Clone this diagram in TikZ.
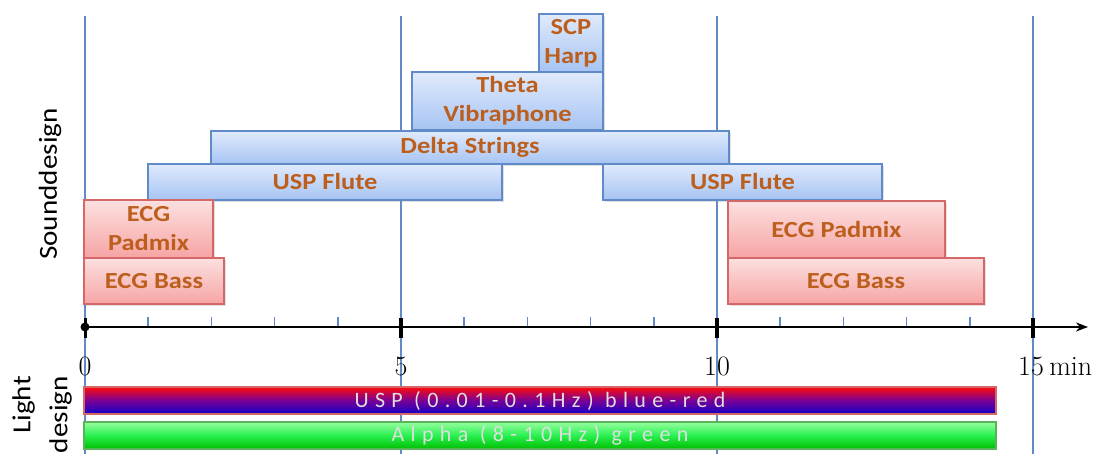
\documentclass[tikz,border=0pt]{standalone}
\usepackage{fontspec}
\usetikzlibrary{shadows,arrows.meta}
\newfontfamily\calibfont[FakeStretch=1.15]{Carlito}
\newfontfamily\sidefont[FakeStretch=1.12]{Carlito}
\newfontfamily\barfont[LetterSpace=29]{Carlito}

\definecolor{gridblue}{RGB}{98,138,198}
\definecolor{blueT}{RGB}{224,234,252}
\definecolor{blueB}{RGB}{166,196,243}
\definecolor{blueD}{RGB}{96,138,200}
\definecolor{redT}{RGB}{253,224,224}
\definecolor{redB}{RGB}{246,164,164}
\definecolor{redD}{RGB}{212,104,104}
\definecolor{labtext}{RGB}{188,94,28}
\definecolor{barred}{RGB}{255,10,10}
\definecolor{barpurple}{RGB}{120,0,150}
\definecolor{barblue}{RGB}{20,0,200}
\definecolor{greenT}{RGB}{150,255,160}
\definecolor{greenM}{RGB}{40,240,80}
\definecolor{greenB}{RGB}{0,190,0}
\definecolor{greenD}{RGB}{90,180,90}
\definecolor{bartext}{RGB}{222,222,222}

\tikzset{
  track/.style={draw, line width=1.5pt, inner sep=0pt, outer sep=0pt,
    anchor=north west, align=center, text=labtext,
    font=\calibfont\bfseries\fontsize{23}{29}\selectfont,
    drop shadow={shadow xshift=2pt, shadow yshift=-2pt, opacity=0.25}},
  soundbox/.style={track, draw=blueD, top color=blueT, bottom color=blueB},
  ecgbox/.style={track, draw=redD, top color=redT, bottom color=redB},
  lightbar/.style={draw, line width=1.2pt, inner sep=0pt, outer sep=0pt,
    anchor=north west, text=bartext,
    font=\barfont\fontsize{22}{24}\selectfont,
    minimum width=912pt, minimum height=27pt},
  gridline/.style={gridblue, line width=2pt},
  minortick/.style={gridblue, line width=1.5pt},
  majortick/.style={black, line width=4.5pt},
  axlabel/.style={inner sep=0pt, font=\fontsize{28}{30}\selectfont},
  sidelabel/.style={rotate=90, inner sep=0pt, font=\sidefont\fontsize{26}{37}\selectfont},
}

\begin{document}
\begin{tikzpicture}[x=1pt, y=-1pt]
\useasboundingbox (0,0) rectangle (1100,454);
\clip (0,0) rectangle (1100,454);

% vertical grid lines at 0, 5, 10 and 15 minutes
\foreach \m in {0,5,10,15}
  \draw[gridline] ({85+63.2*\m},16) -- ({85+63.2*\m},454);

% sound design tracks
\node[soundbox, minimum width=64pt,  minimum height=58pt] (harp)   at (539,14)  {SCP\\Harp};
\node[soundbox, minimum width=191pt, minimum height=58pt] (vibra)  at (412,72)  {Theta\\Vibraphone};
\node[soundbox, minimum width=518pt, minimum height=33pt] (delta)  at (211,131) {Delta Strings};
\node[soundbox, minimum width=354pt, minimum height=36pt] (fluteA) at (148,164) {USP Flute};
\node[soundbox, minimum width=279pt, minimum height=36pt] (fluteB) at (603,164) {USP Flute};
\node[ecgbox,   minimum width=129pt, minimum height=58pt] (padA)   at (84,200)  {ECG\\Padmix};
\node[ecgbox,   minimum width=140pt, minimum height=46pt] (bassA)  at (84,258)  {ECG Bass};
\node[ecgbox,   minimum width=217pt, minimum height=57pt] (padB)   at (728,201) {ECG Padmix};
\node[ecgbox,   minimum width=256pt, minimum height=46pt] (bassB)  at (728,258) {ECG Bass};

% time axis
\coordinate (ax0) at (85,327);
\coordinate (axend) at (1088,327);
\foreach \m in {1,2,3,4,6,7,8,9,11,12,13,14}
  \draw[minortick] ({85+63.2*\m},317) -- ({85+63.2*\m},327);
\draw[line width=2pt, -{Stealth[length=12pt,width=9pt]}] (ax0) -- (axend);
\foreach \m in {5,10,15}
  \draw[majortick] ({85+63.2*\m},318) -- ({85+63.2*\m},338);
\draw[black, line width=3pt] (85,318) -- (85,338);
\fill[black] (ax0) circle (4.5pt);

\node[axlabel] (t0)  at (85,366)  {0};
\node[axlabel] (t5)  at (401,366) {5};
\node[axlabel] (t10) at (717,366) {10};
\node[axlabel] (t15) at (1031,366) {15};
\node[axlabel, anchor=west] (tmin) at ([xshift=5pt]t15.east) {min};

% light design bars
\node[lightbar, draw=redD, top color=barred, bottom color=barblue, middle color=barpurple] (usp) at (84,387) {USP (0.01-0.1Hz) blue-red};
\node[lightbar, draw=greenD, top color=greenT, bottom color=greenB, middle color=greenM] (alpha) at (84,422) {Alpha (8-10Hz) green};

% side labels
\node[sidelabel] (sound) at (50,184) {Sounddesign};
\node[sidelabel, align=right, anchor=east] (light) at (42,376) {Light\\design};
\end{tikzpicture}
\end{document}
